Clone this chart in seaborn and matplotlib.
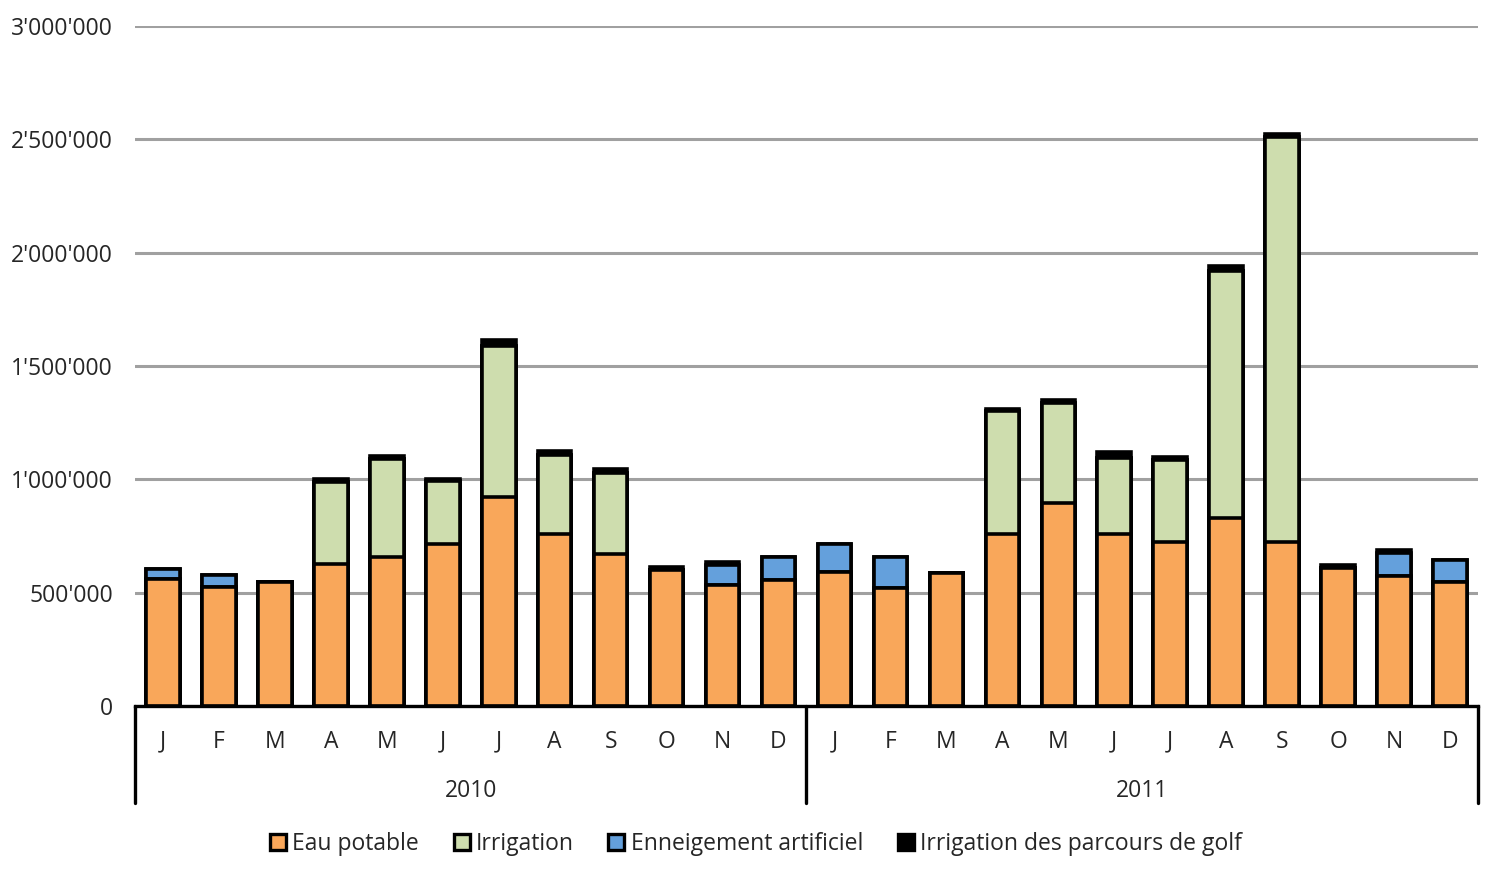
import matplotlib.pyplot as plt
import matplotlib.ticker as mticker
from matplotlib.patches import Patch
import seaborn as sns
import pandas as pd
import numpy as np

years = ["2010", "2011"]
months = ["J", "F", "M", "A", "M", "J", "J", "A", "S", "O", "N", "D"]

eau_potable = [560000, 525000, 545000, 625000, 658000, 716000, 921000, 761000, 671000, 598000, 536000, 557000,
               590000, 522000, 588000, 760000, 895000, 760000, 725000, 828000, 725000, 608000, 575000, 548000]
irrigation = [0, 0, 0, 365000, 432000, 275000, 667000, 348000, 358000, 0, 0, 0,
              0, 0, 0, 540000, 441000, 336000, 361000, 1092000, 1785000, 0, 0, 0]
enneigement = [45000, 55000, 0, 0, 0, 0, 0, 0, 0, 0, 85000, 100000,
               125000, 135000, 0, 0, 0, 0, 0, 0, 0, 0, 100000, 97000]
golf = [0, 0, 0, 12000, 12000, 10000, 25000, 15000, 15000, 15000, 15000, 0,
        0, 0, 0, 12000, 15000, 25000, 12000, 22000, 12000, 12000, 15000, 0]

series = ["Eau potable", "Irrigation", "Enneigement artificiel", "Irrigation des parcours de golf"]
colors = ["#F9A75A", "#CEDDAE", "#64A0DC", "#000000"]

slots = [f"{y}-{i:02d}" for y in years for i in range(1, 13)]
df = pd.DataFrame({"slot": slots, "Eau potable": eau_potable, "Irrigation": irrigation,
                   "Enneigement artificiel": enneigement,
                   "Irrigation des parcours de golf": golf})
cum = df[series].cumsum(axis=1)

sns.set_style("white")
plt.rcParams["font.family"] = ["Open Sans", "DejaVu Sans"]

fig = plt.figure(figsize=(15.03, 8.76), dpi=100)
ax = fig.add_axes([135 / 1503, 1 - 706 / 876, (1478 - 135) / 1503, 680 / 876])

# draw cumulative totals from the top layer down so each lower layer sits over the previous one
for name, col in zip(series[::-1], colors[::-1]):
    sns.barplot(data=cum, x=df["slot"], y=cum[name], color=col, width=0.6,
                edgecolor="black", linewidth=2.6, saturation=1, ax=ax, zorder=3)

ax.set_ylim(0, 3000000)
ax.set_xlim(-0.5, 23.5)
ax.yaxis.set_major_locator(mticker.MultipleLocator(500000))
ax.yaxis.set_major_formatter(mticker.FuncFormatter(lambda v, p: f"{int(v):,}".replace(",", "'")))
ax.grid(axis="y", color="#A0A0A0", linewidth=2.2, zorder=0)
ax.set_axisbelow(True)
for s in ["top", "right", "left"]:
    ax.spines[s].set_visible(False)
ax.spines["bottom"].set_linewidth(2.4)
ax.spines["bottom"].set_color("black")
ax.spines["bottom"].set_zorder(5)

fs = 16.5
ax.set_xticks(range(24))
ax.set_xticklabels(months * 2)
ax.tick_params(axis="x", length=0, pad=17, labelsize=fs)
ax.tick_params(axis="y", length=0, pad=16, labelsize=fs)
ax.set_xlabel(None)
ax.set_ylabel(None)

trans = ax.get_xaxis_transform()
for i, y in enumerate(years):
    ax.text(5.5 + 12 * i, -0.125, y, transform=trans, ha="center", va="center", fontsize=fs)
for xv in [-0.5, 11.5, 23.5]:
    ax.plot([xv, xv], [0, -0.142], transform=trans, color="black", linewidth=2.4, clip_on=False)

handles = [Patch(facecolor=c, edgecolor="black", linewidth=2.4) for c in colors]
fig.legend(handles, series, loc="center", bbox_to_anchor=(0.503, 0.037), ncol=4, frameon=False,
           fontsize=fs, handlelength=0.7, handleheight=0.7, handletextpad=0.28, columnspacing=1.5)

plt.savefig("out.png", dpi=100)
plt.close(fig)
